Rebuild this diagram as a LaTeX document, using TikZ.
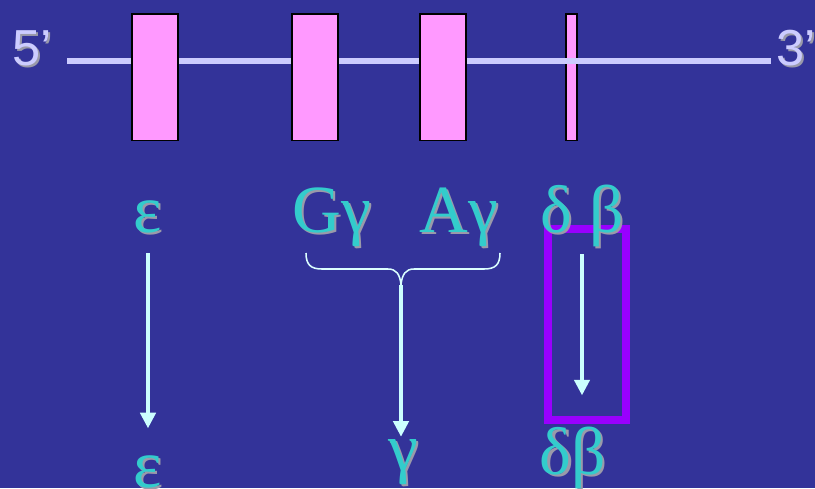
\documentclass[tikz,border=0pt]{standalone}
\usepackage{fontspec}
\setmainfont{Liberation Serif}
\setsansfont{Liberation Sans}
\definecolor{slidebg}{HTML}{333399}
\definecolor{exonpink}{HTML}{FF99FF}
\definecolor{strandlilac}{HTML}{CCCCFF}
\definecolor{globinteal}{HTML}{33CCCC}
\definecolor{flowcyan}{HTML}{CCFFFF}
\definecolor{framepurple}{HTML}{9900FF}
\definecolor{shadowgray}{HTML}{9A9AAA}
\usetikzlibrary{arrows.meta}

% text with a soft drop shadow behind it
\newcommand{\withshadow}[1]{\leavevmode\rlap{\kern1.5pt\raisebox{-1.5pt}{\textcolor{shadowgray}{#1}}}#1}

\begin{document}
\begin{tikzpicture}[x=0.025cm,y=-0.025cm]
        \tikzset{
            exon/.style={
                draw=black,
                fill=exonpink,
                line width=1.3pt,
                minimum width=1.17cm,
                minimum height=3.17cm,
                inner sep=0pt
            },
            thinexon/.style={exon,minimum width=0.26cm},
            strand/.style={draw=strandlilac,line width=4.2pt},
            endlabel/.style={
                font=\sffamily\fontsize{36}{36}\selectfont,
                text=strandlilac,
                anchor=base west,
                inner sep=0pt
            },
            globin/.style={
                font=\fontsize{48}{48}\selectfont,
                text=globinteal,
                anchor=base,
                inner sep=0pt
            },
            flow/.style={
                -{Triangle[width=11pt,length=11pt]},
                draw=flowcyan,
                line width=2.2pt
            },
            bracket/.style={draw=flowcyan!70!white,line width=1.1pt},
            highlight/.style={
                draw=framepurple,
                line width=5.7pt,
                minimum width=1.95cm,
                minimum height=4.78cm
            }
        }

        \fill[slidebg] (0,0) rectangle (815,488);
        \useasboundingbox (0,0) rectangle (815,488);

        % gene map
        \node[endlabel] (five) at (12,65) {\withshadow{5’}};
        \node[endlabel] (three) at (776,65) {\withshadow{3’}};
        \node[thinexon] (deltabeta) at (571.5,77) {};
        \coordinate (strandstart) at (67,61);
        \coordinate (strandend) at (771,61);
        \draw[strand] (strandstart) -- (strandend);
        \node[exon] (epsilon) at (155,77) {};
        \node[exon] (ggamma) at (315,77) {};
        \node[exon] (agamma) at (443,77) {};

        % highlighted delta-beta region
        \node[highlight] (dbframe) at (587,324.5) {};

        % genes
        \node[globin] (epstop) at (148,232) {\withshadow{ε}};
        \node[globin] (ggtop) at (332,232) {\withshadow{Gγ}};
        \node[globin] (agtop) at (459,232) {\withshadow{Aγ}};
        \node[globin] (dbtop) at (582,232) {\withshadow{δ β}};

        % products
        \node[globin] (epsbot) at (148,487) {\withshadow{ε}};
        \node[globin] (gammabot) at (403,470) {\withshadow{γ}};
        \node[globin] (dbbot) at (573,474) {\withshadow{δβ}};

        % both gamma genes give one chain
        \coordinate (bracetip) at (401,285);
        \draw[bracket] (306,253) .. controls (306,265) and (311,269) .. (322,269)
            -- (388,269) .. controls (396,269) and (400,274) .. (bracetip)
            .. controls (402,274) and (406,269) .. (414,269)
            -- (484,269) .. controls (495,269) and (500,265) .. (500,253);

        \draw[flow,shorten <=13pt,shorten >=19pt] (epstop.south) -- (epstop.south |- epsbot.north);
        \draw[flow,shorten >=1.5pt] (bracetip) -- (bracetip |- gammabot.north);
        \draw[flow,shorten <=4pt,shorten >=22pt] (dbtop.south) -- (dbtop.south |- dbbot.north);
    \end{tikzpicture}
\end{document}
